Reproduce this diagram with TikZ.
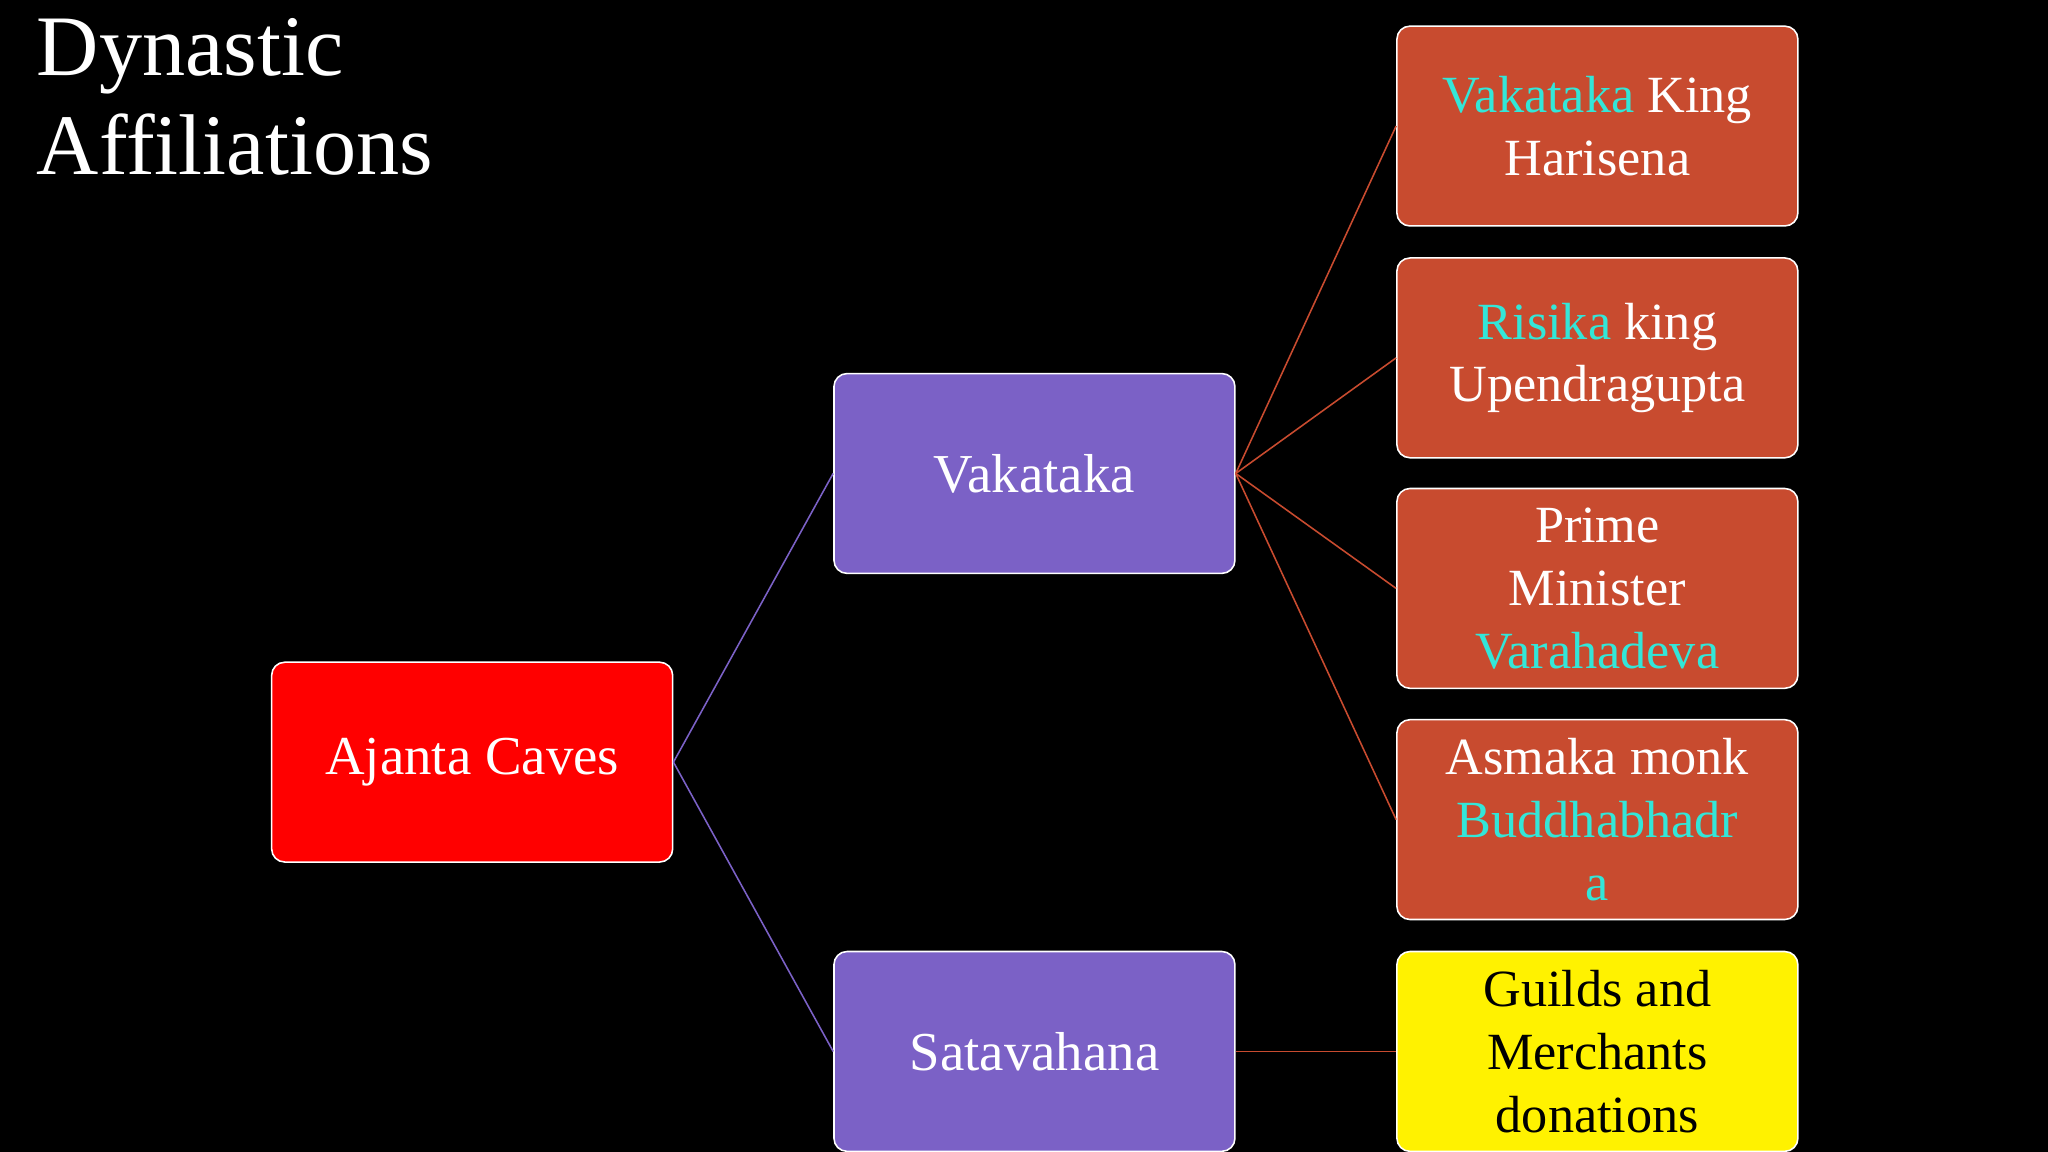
\documentclass[tikz,border=0pt]{standalone}
\usepackage{fontspec}
\setmainfont{Liberation Serif}
\definecolor{purp}{HTML}{7B61C6}
\definecolor{rust}{HTML}{C84B2F}
\definecolor{cy}{HTML}{33E6D8}
\begin{document}
\begin{tikzpicture}[x=1pt,y=1pt,
  box/.style={draw=white,line width=1.2pt,rounded corners=10pt,minimum width=307pt,minimum height=153pt,inner sep=0pt,align=center,font=\fontsize{42}{48}\selectfont,text=white},
  rbox/.style={box,fill=rust,font=\fontsize{40}{48}\selectfont},
  pl/.style={draw=purp,line width=1.2pt},
  ol/.style={draw=rust,line width=1.2pt}]
\useasboundingbox (0,0) rectangle (1568,-882);
\clip (0,0) rectangle (1568,-882);
\fill[black] (0,0) rectangle (1568,-882);
\node[anchor=north west,align=left,text=white,font=\fontsize{66}{76}\selectfont,inner sep=0pt] (title) at (28,-14) {Dynastic\\Affiliations};
\node[box,fill=red] (aj) at (361.5,-583.5) {Ajanta Caves};
\node[box,fill=purp] (vk) at (792,-362.5) {Vakataka};
\node[box,fill=purp] (sv) at (792,-805) {Satavahana};
\node[rbox] (r1) at (1223,-96.5) {\textcolor{cy}{Vakataka} King\\Harisena};
\node[rbox] (r2) at (1223,-274) {\textcolor{cy}{Risika} king\\Upendragupta};
\node[rbox] (r3) at (1223,-450.5) {Prime\\Minister\\\textcolor{cy}{Varahadeva}};
\node[rbox] (r4) at (1223,-627.5) {Asmaka monk\\\textcolor{cy}{Buddhabhadr}\\\textcolor{cy}{a}};
\node[box,fill=yellow,text=black,font=\fontsize{40}{48}\selectfont] (r5) at (1223,-805) {Guilds and\\Merchants\\donations};
\draw[pl] (aj.east) -- (vk.west);
\draw[pl] (aj.east) -- (sv.west);
\foreach \r in {r1,r2,r3,r4} \draw[ol] (vk.east) -- (\r.west);
\draw[ol] (sv.east) -- (r5.west);
\end{tikzpicture}
\end{document}
